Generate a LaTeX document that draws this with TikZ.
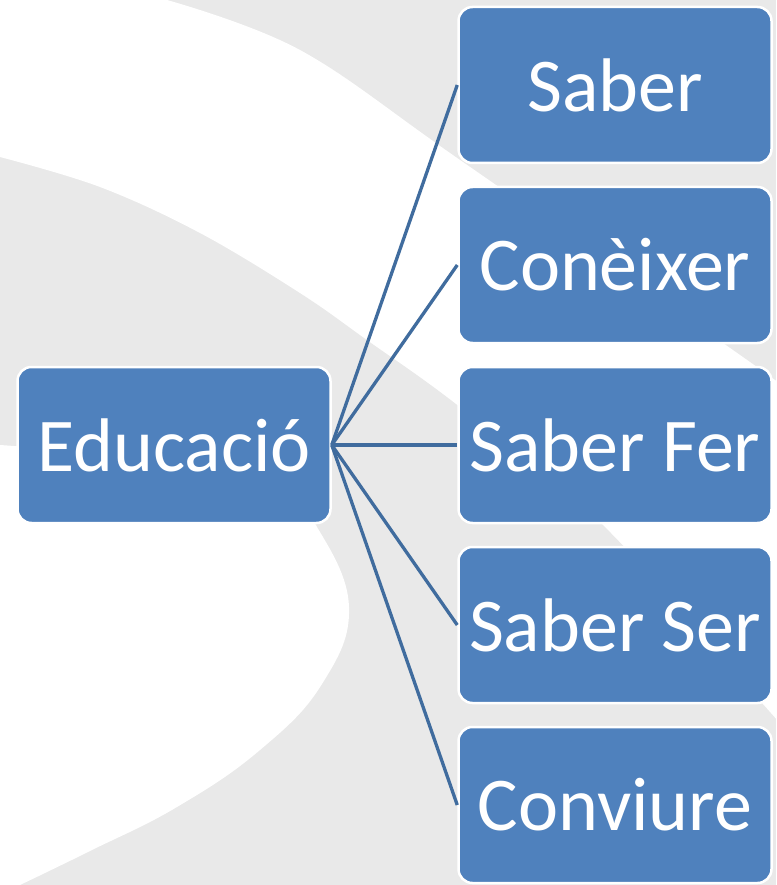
\documentclass[tikz,border=0pt]{standalone}
\usepackage{fontspec}
\setmainfont{Carlito}
\definecolor{bggray}{RGB}{233,233,233}
\definecolor{boxblue}{RGB}{79,129,189}
\definecolor{lineblue}{RGB}{64,108,158}
\tikzset{
  box/.style={draw=white, line width=2.5pt, fill=boxblue, rounded corners=14pt,
    minimum width=313pt, minimum height=156pt, inner sep=0pt, text=white,
    font=\fontsize{76}{90}\selectfont},
  conn/.style={draw=lineblue, line width=3.3pt}
}
\begin{document}
\begin{tikzpicture}[x=1pt,y=-1pt]
\useasboundingbox (0,0) rectangle (776,885);
\fill[bggray] (0,0) rectangle (776,885);
% white band 1
\fill[white] (-10,-10) -- (167,-10) -- plot[smooth, tension=0.6] coordinates {(167,0) (300,50) (460,160) (740,355) (790,392)}
  -- (790,735) -- plot[smooth, tension=0.6] coordinates {(790,735) (755,695) (600,522) (460,407) (367,340) (300,293) (200,233) (100,187) (0,157)}
  -- (-10,157) -- cycle;
% white shape 2
\fill[white] (-10,445) -- plot[smooth, tension=0.7] coordinates {(0,445) (150,460) (280,490) (317,527) (349,607) (322,684) (260,750) (177,807) (90,851) (20,885)}
  -- (20,895) -- (-10,895) -- cycle;
% nodes
\node[box] (edu) at (174,445) {Educació};
\node[box] (s1) at (615,85) {Saber};
\node[box] (s2) at (615,265) {Conèixer};
\node[box] (s3) at (615,445) {Saber Fer};
\node[box] (s4) at (615,625) {Saber Ser};
\node[box] (s5) at (615,805) {Conviure};
% connectors
\foreach \t in {s1,s2,s3,s4,s5}
  \draw[conn] (edu.east) -- (\t.west);
\end{tikzpicture}
\end{document}
